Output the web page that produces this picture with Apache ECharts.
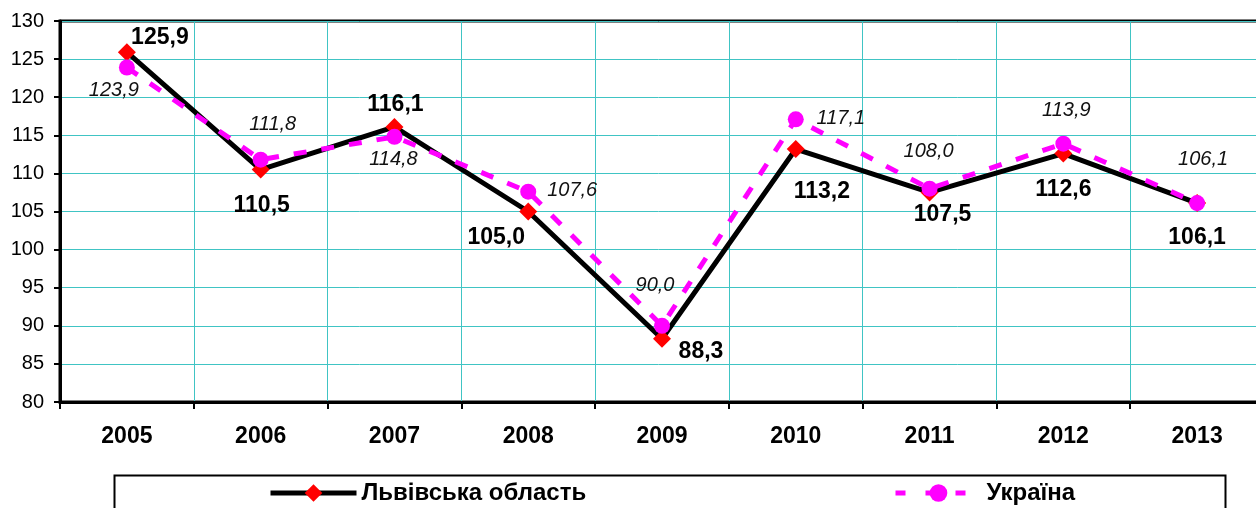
<!DOCTYPE html>
<html>
<head>
<meta charset="utf-8">
<script src="https://cdn.jsdelivr.net/npm/echarts@6/dist/echarts.min.js"></script>
<style>
  html, body { margin: 0; padding: 0; background: #fff; }
  #chart { width: 1256px; height: 508px; }
</style>
</head>
<body>
<div id="chart"></div>
<script>
const years = ['2005', '2006', '2007', '2008', '2009', '2010', '2011', '2012', '2013']
const lvivValues = [125.9, 110.5, 116.1, 105.0, 88.3, 113.2, 107.5, 112.6, 106.1]
const ukraineValues = [123.9, 111.8, 114.8, 107.6, 90.0, 117.1, 108.0, 113.9, 106.1]

// label placement around each marker (dx, dy from the marker centre)
const lvivLabelShift = [[33, -15], [1, 36], [1, -22], [-32, 26], [39, 13], [26, 43], [13, 22], [0, 36], [0, 35]]
const ukraineLabelShift = [[-13, 23], [12, -35], [-1, 23], [44, -1], [-7, -40], [45, -1], [-1, -37], [3, -33], [6, -44]]

const font = 'Arial, "Liberation Sans", sans-serif'
const fmt = (v) => v.toFixed(1).replace('.', ',')

const chart = echarts.init(document.getElementById('chart'), null, { renderer: 'canvas' })

const legendText = { color: '#000', fontFamily: font, fontWeight: 'bold', fontSize: 24 }

const option = {
  backgroundColor: '#fff',
  animation: false,
  grid: {
    left: 60,
    top: 21,
    bottom: 106,
    right: -8,
    outerBoundsMode: 'none',
    show: true,
    borderColor: '#000',
    borderWidth: 3
  },
  xAxis: {
    type: 'category',
    data: years,
    boundaryGap: true,
    axisLine: { lineStyle: { color: '#000', width: 3 } },
    axisTick: { show: true, length: 7, lineStyle: { color: '#000', width: 2 } },
    axisLabel: { color: '#000', fontFamily: font, fontWeight: 'bold', fontSize: 23, margin: 23 },
    splitLine: { show: true, lineStyle: { color: '#40c4c4', width: 1 } }
  },
  yAxis: {
    type: 'value',
    min: 80,
    max: 130,
    interval: 5,
    axisLine: { show: true, lineStyle: { color: '#000', width: 3 } },
    axisTick: { show: true, length: 6, lineStyle: { color: '#000', width: 2 } },
    axisLabel: { color: '#000', fontFamily: font, fontSize: 20, margin: 16 },
    splitLine: { show: true, lineStyle: { color: '#40c4c4', width: 1 } }
  },
  legend: [
    {
      data: ['Львівська область'],
      left: 268,
      top: 481,
      padding: 0,
      itemWidth: 86,
      itemHeight: 22,
      lineStyle: { width: 5 },
      textStyle: legendText
    },
    {
      data: ['Україна'],
      left: 893,
      top: 481,
      padding: 0,
      itemWidth: 86,
      itemHeight: 22,
      lineStyle: { width: 5, type: [10, 20] },
      textStyle: legendText
    }
  ],
  graphic: [
    {
      type: 'rect',
      left: 112,
      top: 473,
      shape: { width: 1111, height: 60 },
      style: { fill: 'none', stroke: '#000', lineWidth: 2 },
      silent: true
    }
  ],
  series: [
    {
      name: 'Львівська область',
      type: 'line',
      data: lvivValues.map((v, i) => ({
        value: v,
        label: { offset: lvivLabelShift[i] }
      })),
      symbol: 'diamond',
      symbolSize: 18,
      lineStyle: { color: '#000', width: 5 },
      itemStyle: { color: '#ff0000' },
      label: {
        show: true,
        position: 'inside',
        formatter: (p) => fmt(p.value),
        color: '#000',
        fontFamily: font,
        fontWeight: 'bold',
        fontSize: 23
      },
      z: 2
    },
    {
      name: 'Україна',
      type: 'line',
      data: ukraineValues.map((v, i) => ({
        value: v,
        label: { offset: ukraineLabelShift[i] }
      })),
      symbol: 'circle',
      symbolSize: 16,
      lineStyle: { color: '#ff00ff', width: 5, type: [13, 15] },
      itemStyle: { color: '#ff00ff' },
      label: {
        show: true,
        position: 'inside',
        formatter: (p) => fmt(p.value),
        color: '#111',
        fontFamily: font,
        fontStyle: 'italic',
        fontSize: 20
      },
      z: 3
    }
  ]
}

chart.setOption(option)
</script>
</body>
</html>
